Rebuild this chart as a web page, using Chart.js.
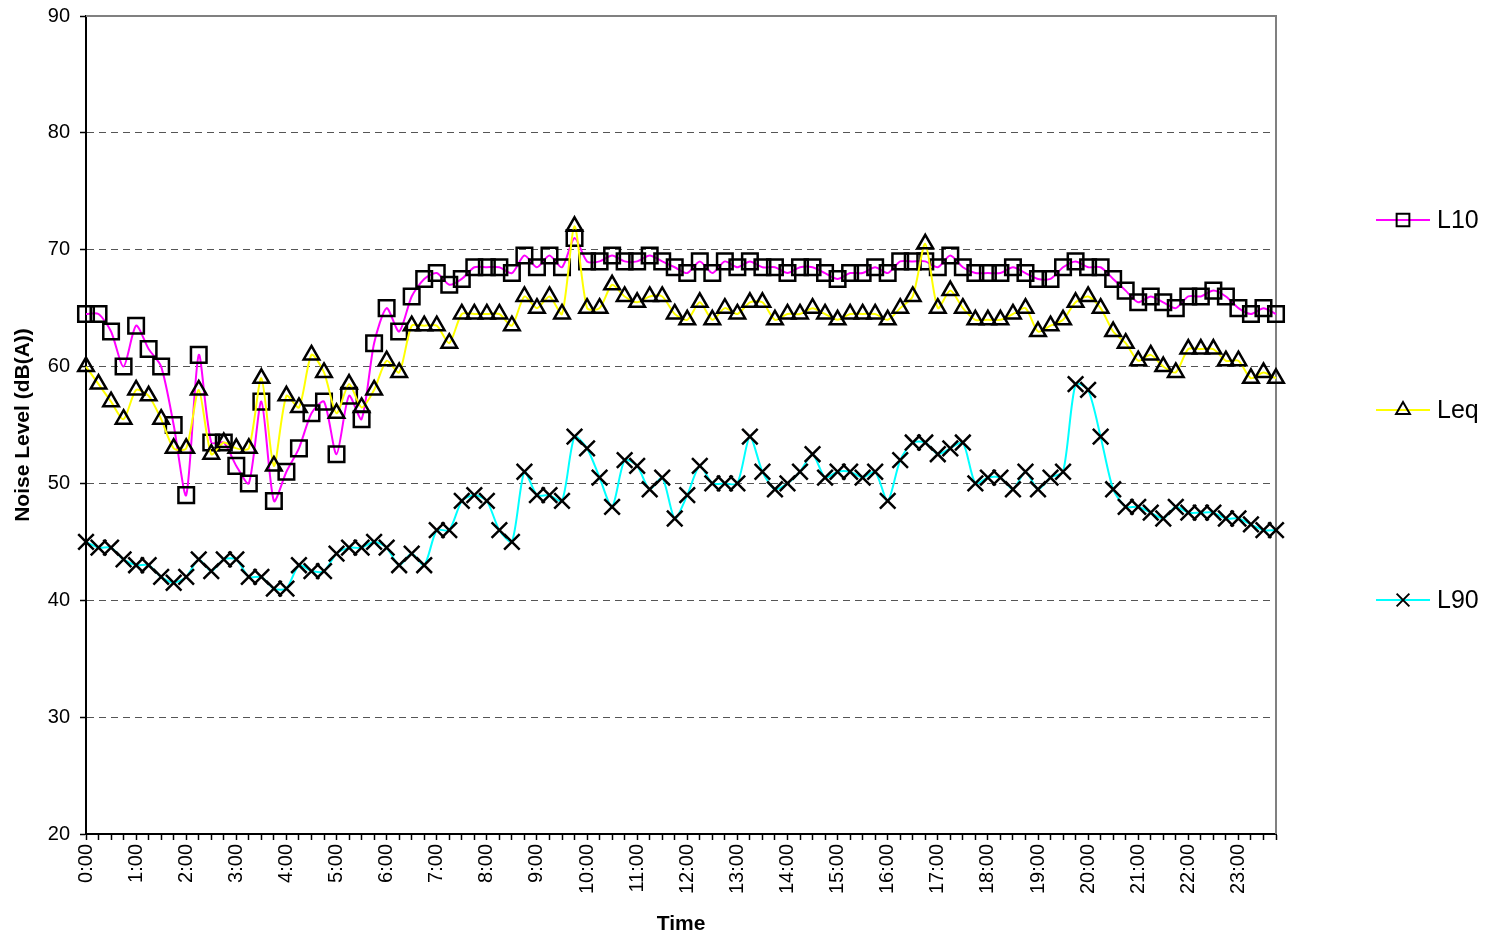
<!DOCTYPE html>
<html>
<head>
<meta charset="utf-8">
<title>Noise Level</title>
<script src="https://cdn.jsdelivr.net/npm/chart.js@4"></script>
<style>
    html, body { margin: 0; padding: 0; background: #fff; }
    #wrap { width: 1493px; height: 939px; position: relative; }
</style>
</head>
<body>
<div id="wrap"><canvas id="noiseChart"></canvas></div>
<script>
// 15 minute periods over the day
const times = [
    '0:00', '0:15', '0:30', '0:45', '1:00', '1:15', '1:30', '1:45',
    '2:00', '2:15', '2:30', '2:45', '3:00', '3:15', '3:30', '3:45',
    '4:00', '4:15', '4:30', '4:45', '5:00', '5:15', '5:30', '5:45',
    '6:00', '6:15', '6:30', '6:45', '7:00', '7:15', '7:30', '7:45',
    '8:00', '8:15', '8:30', '8:45', '9:00', '9:15', '9:30', '9:45',
    '10:00', '10:15', '10:30', '10:45', '11:00', '11:15', '11:30', '11:45',
    '12:00', '12:15', '12:30', '12:45', '13:00', '13:15', '13:30', '13:45',
    '14:00', '14:15', '14:30', '14:45', '15:00', '15:15', '15:30', '15:45',
    '16:00', '16:15', '16:30', '16:45', '17:00', '17:15', '17:30', '17:45',
    '18:00', '18:15', '18:30', '18:45', '19:00', '19:15', '19:30', '19:45',
    '20:00', '20:15', '20:30', '20:45', '21:00', '21:15', '21:30', '21:45',
    '22:00', '22:15', '22:30', '22:45', '23:00', '23:15', '23:30', '23:45'
];

// only the full hours get a label
const hourLabels = [
    '0:00', '1:00', '2:00', '3:00', '4:00', '5:00', '6:00', '7:00',
    '8:00', '9:00', '10:00', '11:00', '12:00', '13:00', '14:00', '15:00',
    '16:00', '17:00', '18:00', '19:00', '20:00', '21:00', '22:00', '23:00'
];

const yTicks = [20, 30, 40, 50, 60, 70, 80, 90];

const l10 = [
    64.5, 64.5, 63, 60, 63.5, 61.5, 60, 55,
    49, 61, 53.5, 53.5, 51.5, 50, 57, 48.5,
    51, 53, 56, 57, 52.5, 57.5, 55.5, 62,
    65, 63, 66, 67.5, 68, 67, 67.5, 68.5,
    68.5, 68.5, 68, 69.5, 68.5, 69.5, 68.5, 71,
    69, 69, 69.5, 69, 69, 69.5, 69, 68.5,
    68, 69, 68, 69, 68.5, 69, 68.5, 68.5,
    68, 68.5, 68.5, 68, 67.5, 68, 68, 68.5,
    68, 69, 69, 69, 68.5, 69.5, 68.5, 68,
    68, 68, 68.5, 68, 67.5, 67.5, 68.5, 69,
    68.5, 68.5, 67.5, 66.5, 65.5, 66, 65.5, 65,
    66, 66, 66.5, 66, 65, 64.5, 65, 64.5
];

const leq = [
    60, 58.5, 57, 55.5, 58, 57.5, 55.5, 53,
    53, 58, 52.5, 53.5, 53, 53, 59, 51.5,
    57.5, 56.5, 61, 59.5, 56, 58.5, 56.5, 58,
    60.5, 59.5, 63.5, 63.5, 63.5, 62, 64.5, 64.5,
    64.5, 64.5, 63.5, 66, 65, 66, 64.5, 72,
    65, 65, 67, 66, 65.5, 66, 66, 64.5,
    64, 65.5, 64, 65, 64.5, 65.5, 65.5, 64,
    64.5, 64.5, 65, 64.5, 64, 64.5, 64.5, 64.5,
    64, 65, 66, 70.5, 65, 66.5, 65, 64,
    64, 64, 64.5, 65, 63, 63.5, 64, 65.5,
    66, 65, 63, 62, 60.5, 61, 60, 59.5,
    61.5, 61.5, 61.5, 60.5, 60.5, 59, 59.5, 59
];

const l90 = [
    45, 44.5, 44.5, 43.5, 43, 43, 42, 41.5,
    42, 43.5, 42.5, 43.5, 43.5, 42, 42, 41,
    41, 43, 42.5, 42.5, 44, 44.5, 44.5, 45,
    44.5, 43, 44, 43, 46, 46, 48.5, 49,
    48.5, 46, 45, 51, 49, 49, 48.5, 54,
    53, 50.5, 48, 52, 51.5, 49.5, 50.5, 47,
    49, 51.5, 50, 50, 50, 54, 51, 49.5,
    50, 51, 52.5, 50.5, 51, 51, 50.5, 51,
    48.5, 52, 53.5, 53.5, 52.5, 53, 53.5, 50,
    50.5, 50.5, 49.5, 51, 49.5, 50.5, 51, 58.5,
    58, 54, 49.5, 48, 48, 47.5, 47, 48,
    47.5, 47.5, 47.5, 47, 47, 46.5, 46, 46
];

const FONT = '"Liberation Sans", Arial, Helvetica, sans-serif';

// Grey frame around the plot (top and right edges)
const plotFrame = {
    id: 'plotFrame',
    beforeDatasetsDraw(chart) {
        const { ctx, chartArea: a } = chart;
        ctx.save();
        ctx.strokeStyle = '#808080';
        ctx.lineWidth = 2;
        ctx.beginPath();
        ctx.moveTo(a.left, a.top);
        ctx.lineTo(a.right, a.top);
        ctx.lineTo(a.right, a.bottom);
        ctx.stroke();
        ctx.restore();
    }
};

// Legend on the right, spread out like the Excel one
const legendY = [220, 410, 600];
const legendRadius = [9, 8, 9];
const sideLegend = {
    id: 'sideLegend',
    afterDraw(chart) {
        const ctx = chart.ctx;
        chart.data.datasets.forEach((ds, i) => {
            const y = legendY[i];
            ctx.save();
            ctx.strokeStyle = ds.borderColor;
            ctx.lineWidth = 2;
            ctx.beginPath();
            ctx.moveTo(1376, y);
            ctx.lineTo(1430, y);
            ctx.stroke();
            ctx.strokeStyle = '#000';
            ctx.fillStyle = 'rgba(0,0,0,0)';
            Chart.helpers.drawPoint(ctx, {
                pointStyle: ds.pointStyle,
                radius: legendRadius[i],
                rotation: 0,
                borderWidth: 2
            }, 1403, y);
            ctx.fillStyle = '#000';
            ctx.font = '25px ' + FONT;
            ctx.textBaseline = 'middle';
            ctx.fillText(ds.label, 1437, y + 1);
            ctx.restore();
        });
    }
};

const noiseCtx = document.getElementById('noiseChart').getContext('2d');
const noiseChart = new Chart(noiseCtx, {
    type: 'line',
    data: {
        labels: times,
        datasets: [
            {
                label: 'L10',
                data: l10,
                borderColor: '#ff00ff',
                borderWidth: 2,
                tension: 0.25,
                pointStyle: 'rect',
                pointRadius: 11,
                pointBorderColor: '#000',
                pointBackgroundColor: 'rgba(0,0,0,0)',
                pointBorderWidth: 2.5,
                clip: false,
                order: 3
            },
            {
                label: 'Leq',
                data: leq,
                borderColor: '#ffff00',
                borderWidth: 2,
                tension: 0.25,
                pointStyle: 'triangle',
                pointRadius: 9,
                pointBorderColor: '#000',
                pointBackgroundColor: 'rgba(0,0,0,0)',
                pointBorderWidth: 2.5,
                clip: false,
                order: 2
            },
            {
                label: 'L90',
                data: l90,
                borderColor: '#00ffff',
                borderWidth: 2,
                tension: 0.25,
                pointStyle: 'crossRot',
                pointRadius: 11,
                pointBorderColor: '#000',
                pointBackgroundColor: 'rgba(0,0,0,0)',
                pointBorderWidth: 2.5,
                clip: false,
                order: 1
            }
        ]
    },
    options: {
        responsive: true,
        maintainAspectRatio: false,
        animation: false,
        layout: { padding: { top: 16, right: 217, left: 0, bottom: 0 } },
        plugins: {
            legend: { display: false },
            tooltip: { enabled: false }
        },
        scales: {
            x: {
                type: 'category',
                offset: false,
                afterFit: (scale) => {
                    scale.height = 105;
                    scale.paddingLeft = 0;
                    scale.paddingRight = 0;
                },
                ticks: {
                    autoSkip: false,
                    minRotation: 90,
                    maxRotation: 90,
                    padding: 4,
                    color: '#000',
                    font: { family: FONT, size: 20 },
                    callback: function (value) {
                        const lab = this.getLabelForValue(value);
                        return hourLabels.includes(lab) ? lab : '';
                    }
                },
                grid: {
                    drawOnChartArea: false,
                    drawTicks: true,
                    tickLength: 6,
                    tickColor: '#000',
                    tickWidth: 1.5
                },
                border: { display: true, color: '#000', width: 2 },
                title: {
                    display: true,
                    text: 'Time',
                    color: '#000',
                    font: { family: FONT, size: 21, weight: 'bold' },
                    padding: { top: 0, bottom: 2 }
                }
            },
            y: {
                min: yTicks[0],
                max: yTicks[yTicks.length - 1],
                afterFit: (scale) => {
                    scale.width = 86;
                    scale.paddingTop = 0;
                    scale.paddingBottom = 0;
                },
                afterBuildTicks: (scale) => { scale.ticks = yTicks.map(v => ({ value: v })); },
                ticks: {
                    padding: 10,
                    color: '#000',
                    font: { family: FONT, size: 20 }
                },
                grid: {
                    color: (c) => (c.tick && (c.tick.value === yTicks[0] || c.tick.value === yTicks[yTicks.length - 1])) ? 'rgba(0,0,0,0)' : '#555',
                    lineWidth: 1,
                    tickLength: 6,
                    tickColor: '#000',
                    tickBorderDash: [],
                    tickWidth: 1.5
                },
                border: { display: true, color: '#000', width: 2, dash: [7, 5] },
                title: {
                    display: true,
                    text: 'Noise Level (dB(A))',
                    color: '#000',
                    font: { family: FONT, size: 21, weight: 'bold' },
                    padding: { top: 11, bottom: 0 }
                }
            }
        }
    },
    plugins: [plotFrame, sideLegend]
});
</script>
</body>
</html>
